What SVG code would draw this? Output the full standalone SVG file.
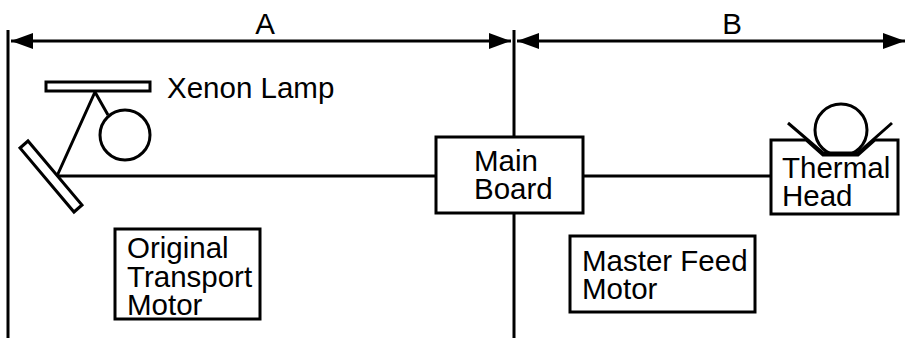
<svg xmlns="http://www.w3.org/2000/svg" width="905" height="338" viewBox="0 0 905 338">
<style>
.l{stroke:#000;stroke-width:3;fill:none}
.b{stroke:#000;stroke-width:3;fill:#fff}
text{font-family:"Liberation Sans",Arial,sans-serif;font-size:29.5px;fill:#000}
</style>
<defs>
<marker id="a" markerUnits="userSpaceOnUse" markerWidth="23" markerHeight="16" refX="22" refY="8" orient="auto-start-reverse"><path d="M0 0L22 8L0 16Z" fill="#000"/></marker>
</defs>
<g id="connectors">
<path class="l" d="M8 30V338M514 30V338"/>
<path class="l" d="M11 41H511" marker-start="url(#a)" marker-end="url(#a)"/>
<path class="l" d="M517 41H905" marker-start="url(#a)" marker-end="url(#a)"/>
<path class="l" d="M57 176L95 92L108 115M57 176H436M583 176H771"/>
</g>
<g id="dimA"><text x="265" y="34" text-anchor="middle">A</text></g>
<g id="dimB"><text x="732" y="34" text-anchor="middle">B</text></g>
<g id="lamp"><rect class="b" x="46" y="82" width="104" height="9"/><circle class="b" cx="125" cy="135" r="25"/></g>
<g id="xenon"><text x="167" y="98">Xenon Lamp</text></g>
<g id="mirror"><path class="b" d="M20 148L28 141L82 205L74 212Z"/></g>
<g id="main-board"><rect class="b" x="436" y="137" width="147" height="76"/><text><tspan x="474" y="171">Main</tspan><tspan x="474" y="199">Board</tspan></text></g>
<g id="thermal-head"><circle class="b" cx="841" cy="130" r="26"/><path class="b" d="M771 140H806L823 155H858L875 140H898V214H771Z"/><path class="l" d="M788 123L823 153H858L892 123"/><text><tspan x="782" y="178">Thermal</tspan><tspan x="782" y="206">Head</tspan></text></g>
<g id="transport"><rect class="b" x="115" y="229" width="145" height="90"/><text><tspan x="127" y="258">Original</tspan><tspan x="127" y="287">Transport</tspan><tspan x="127" y="315">Motor</tspan></text></g>
<g id="feed"><rect class="b" x="570" y="236" width="185" height="76"/><text><tspan x="582" y="271">Master Feed</tspan><tspan x="582" y="299">Motor</tspan></text></g>
</svg>
